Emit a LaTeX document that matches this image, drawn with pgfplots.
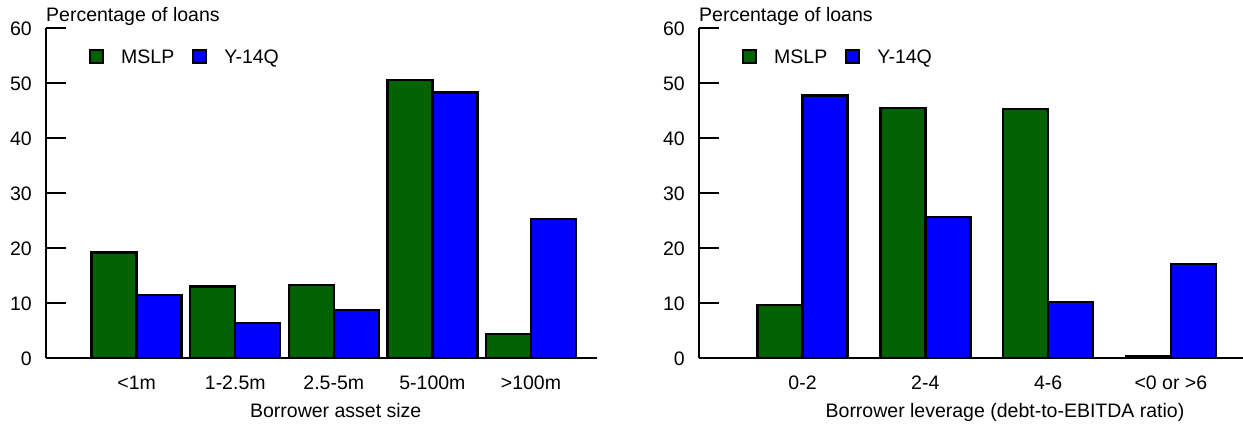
\documentclass[border=0pt]{standalone}
\usepackage{fontspec}
\setmainfont{Liberation Sans}
\usepackage{pgfplots}
\pgfplotsset{compat=1.18}
\definecolor{mslp}{RGB}{0,98,0}
\definecolor{yq}{RGB}{0,0,255}
\pgfplotsset{
  panel/.style={
    scale only axis, height=330bp,
    ymin=0, ymax=60, ytick={0,10,...,60},
    axis x line=bottom, axis y line=left,
    axis line style={-, line width=2.6bp, black},
    tick align=inside, major tick length=20bp,
    ytick style={line width=2.6bp, black},
    xtick style={draw=none},
    /pgf/number format/assume math mode=true,
    ybar=0pt, bar width=45bp,
    yticklabel style={anchor=base east, inner sep=0pt, xshift=-14bp, yshift=-7.5bp},
    xticklabel style={anchor=base, inner sep=0pt, yshift=-11bp},
    title style={at={(rel axis cs:0,1)}, anchor=base west, inner sep=0pt, yshift=0.5bp},
    title={Percentage of loans},
    legend columns=-1,
    legend image code/.code={\draw[#1, line width=2bp] (0bp,-5.5bp) rectangle (13bp,7.5bp);},
    legend style={draw=none, fill=none, at={(rel axis cs:0,1)}, anchor=north west,
      inner sep=0pt, nodes={inner sep=0pt},
      /tikz/every odd column/.append style={column sep=17bp},
      /tikz/every even column/.append style={column sep=18bp}},
  },
  bars/.style={fill=#1, draw=black, line width=2.4bp},
}
\begin{document}
\begin{tikzpicture}[font=\fontsize{19.5bp}{22bp}\selectfont]
\useasboundingbox (0,0) rectangle (1243bp,425bp);
\begin{axis}[panel, at={(46bp,67bp)}, anchor=south west, width=551bp,
  xmin=-0.92, xmax=4.67,
  xtick={0,1,2,3,4}, xticklabels={{<1m},{1-2.5m},{2.5-5m},{5-100m},{>100m}},
  xlabel={Borrower asset size},
  xlabel style={at={(rel axis cs:0,0)}, anchor=base, inner sep=0pt, xshift=289.7bp, yshift=-59.7bp},
  legend style={xshift=43bp, yshift=-21bp}]
\addplot[bars=mslp] coordinates {(0,19.2) (1,13.0) (2,13.3) (3,50.5) (4,4.4)};
\addplot[bars=yq] coordinates {(0,11.45) (1,6.4) (2,8.7) (3,48.3) (4,25.3)};
\legend{MSLP,Y-14Q}
\end{axis}
\begin{axis}[panel, at={(699bp,67bp)}, anchor=south west, width=544bp,
  xmin=-0.843, xmax=3.587,
  xtick={0,1,2,3}, xticklabels={{0-2},{2-4},{4-6},{<0 or >6}},
  xlabel={Borrower leverage (debt-to-EBITDA ratio)},
  xlabel style={at={(rel axis cs:0,0)}, anchor=base, inner sep=0pt, xshift=306bp, yshift=-59.7bp},
  legend style={xshift=43bp, yshift=-21bp}]
\addplot[bars=mslp] coordinates {(0,9.6) (1,45.5) (2,45.3) (3,0.3)};
\addplot[bars=yq] coordinates {(0,47.7) (1,25.6) (2,10.2) (3,17.1)};
\legend{MSLP,Y-14Q}
\end{axis}
\end{tikzpicture}
\end{document}
